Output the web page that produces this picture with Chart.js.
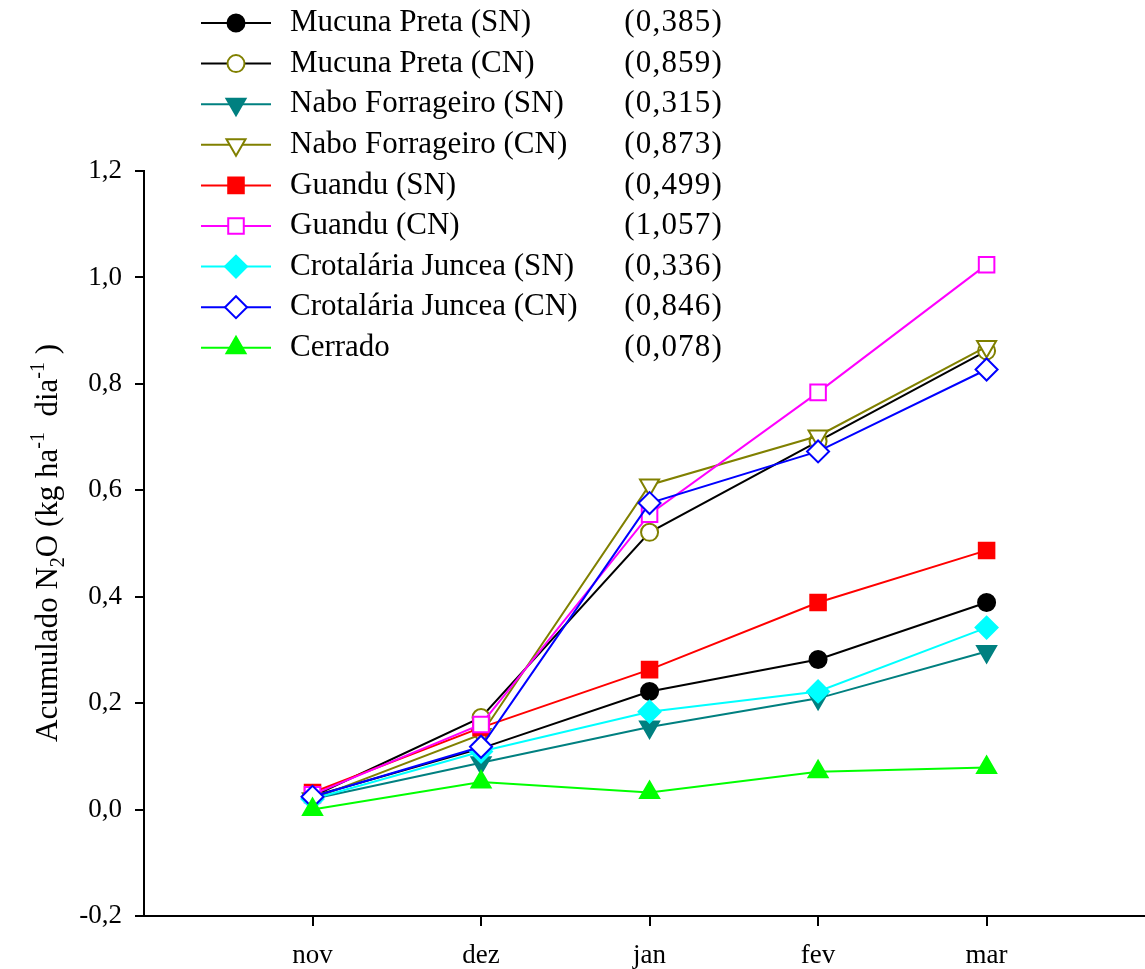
<!DOCTYPE html>
<html>
<head>
<meta charset="utf-8">
<script src="https://cdn.jsdelivr.net/npm/chart.js@4.4.1/dist/chart.umd.min.js"></script>
<style>
  body { margin: 0; background: #fff; }
  canvas { display: block; }
</style>
</head>
<body>
<canvas id="graph" width="1145" height="969"></canvas>
<script>
// data
var months = ['nov', 'dez', 'jan', 'fev', 'mar'];
var seriesNames = [
  'Mucuna Preta (SN)', 'Mucuna Preta (CN)', 'Nabo Forrageiro (SN)', 'Nabo Forrageiro (CN)',
  'Guandu (SN)', 'Guandu (CN)', 'Crotalária Juncea (SN)', 'Crotalária Juncea (CN)', 'Cerrado'
];
var totals = ['(0,385)', '(0,859)', '(0,315)', '(0,873)', '(0,499)', '(1,057)', '(0,336)', '(0,846)', '(0,078)'];

var mucunaSN = [0.025, 0.115, 0.222, 0.282, 0.389];
var mucunaCN = [0.025, 0.173, 0.521, 0.692, 0.862];
var naboSN = [0.020, 0.088, 0.155, 0.209, 0.297];
var naboCN = [0.020, 0.141, 0.610, 0.702, 0.870];
var guanduSN = [0.032, 0.154, 0.263, 0.389, 0.487];
var guanduCN = [0.028, 0.160, 0.555, 0.784, 1.024];
var crotSN = [0.020, 0.109, 0.184, 0.222, 0.342];
var crotCN = [0.024, 0.118, 0.576, 0.673, 0.827];
var cerrado = [0.000, 0.052, 0.032, 0.071, 0.079];

var FONT = '"Liberation Serif", "Times New Roman", serif';

// line colour, marker colour, marker fill, shape, rotation
var styles = [
  { line: '#000000', mark: '#000000', fill: '#000000', shape: 'circle', rot: 0, r: 8.5 },
  { line: '#000000', mark: '#808000', fill: '#ffffff', shape: 'circle', rot: 0, r: 8.5 },
  { line: '#008080', mark: '#008080', fill: '#008080', shape: 'triangle', rot: 180, r: 11 },
  { line: '#808000', mark: '#808000', fill: '#ffffff', shape: 'triangle', rot: 180, r: 11 },
  { line: '#ff0000', mark: '#ff0000', fill: '#ff0000', shape: 'rect', rot: 0, r: 11 },
  { line: '#ff00ff', mark: '#ff00ff', fill: '#ffffff', shape: 'rect', rot: 0, r: 11 },
  { line: '#00ffff', mark: '#00ffff', fill: '#00ffff', shape: 'rectRot', rot: 0, r: 11 },
  { line: '#0000ff', mark: '#0000ff', fill: '#ffffff', shape: 'rectRot', rot: 0, r: 11 },
  { line: '#00ff00', mark: '#00ff00', fill: '#00ff00', shape: 'triangle', rot: 0, r: 11 }
];

var allSeries = [mucunaSN, mucunaCN, naboSN, naboCN, guanduSN, guanduCN, crotSN, crotCN, cerrado];

var datasets = allSeries.map(function (vals, i) {
  var s = styles[i];
  return {
    label: seriesNames[i],
    data: vals.map(function (v, j) { return { x: j, y: v }; }),
    borderColor: s.line,
    borderWidth: 2,
    pointStyle: s.shape,
    rotation: s.rot,
    pointRadius: s.r,
    pointBorderWidth: 2,
    pointBorderColor: s.mark,
    pointBackgroundColor: s.fill,
    tension: 0,
    clip: false,
    order: allSeries.length - i
  };
});

function drawMarker(ctx, s, x, y) {
  var r = s.r;
  ctx.beginPath();
  if (s.shape === 'circle') {
    ctx.arc(x, y, r, 0, Math.PI * 2);
  } else if (s.shape === 'rect') {
    var h = r * Math.SQRT1_2;
    ctx.rect(x - h, y - h, 2 * h, 2 * h);
  } else if (s.shape === 'rectRot') {
    ctx.moveTo(x, y - r); ctx.lineTo(x + r, y); ctx.lineTo(x, y + r); ctx.lineTo(x - r, y);
    ctx.closePath();
  } else {
    var rad = s.rot * Math.PI / 180;
    for (var k = 0; k < 3; k++) {
      var px = x + Math.sin(rad) * r, py = y - Math.cos(rad) * r;
      if (k === 0) ctx.moveTo(px, py); else ctx.lineTo(px, py);
      rad += Math.PI * 2 / 3;
    }
    ctx.closePath();
  }
  ctx.fillStyle = s.fill;
  ctx.fill();
  ctx.lineWidth = 2;
  ctx.strokeStyle = s.mark;
  ctx.stroke();
}

var extras = {
  id: 'extras',
  afterDraw: function (chart) {
    var ctx = chart.ctx;
    ctx.save();
    // legend
    ctx.font = '31px ' + FONT;
    ctx.textBaseline = 'middle';
    for (var i = 0; i < seriesNames.length; i++) {
      var y = 23 + i * 40.6;
      var s = styles[i];
      ctx.beginPath();
      ctx.moveTo(201, y); ctx.lineTo(271, y);
      ctx.lineWidth = 2; ctx.strokeStyle = s.line; ctx.stroke();
      drawMarker(ctx, s, 236, y);
      ctx.fillStyle = '#000';
      ctx.textAlign = 'left';
      ctx.letterSpacing = '0px';
      ctx.fillText(seriesNames[i], 290, y);
      ctx.textAlign = 'right';
      ctx.letterSpacing = '1.2px';
      ctx.fillText(totals[i], 723, y);
    }
    ctx.letterSpacing = '0px';
    ctx.restore();

    // y axis title with sub/superscripts
    ctx.save();
    ctx.translate(57, 543);
    ctx.rotate(-Math.PI / 2);
    ctx.fillStyle = '#000';
    ctx.textBaseline = 'alphabetic';
    ctx.textAlign = 'left';
    var big = '31px ' + FONT, small = '20px ' + FONT;
    var parts = [
      ['Acumulado N', big, 0], ['2', small, 7], ['O (kg ha', big, 0], ['-1', small, -13],
      ['  dia', big, 0], ['-1', small, -13], [' )', big, 0]
    ];
    var total = 0;
    parts.forEach(function (p) { ctx.font = p[1]; total += ctx.measureText(p[0]).width; });
    var x = -total / 2;
    parts.forEach(function (p) {
      ctx.font = p[1];
      ctx.fillText(p[0], x, p[2]);
      x += ctx.measureText(p[0]).width;
    });
    ctx.restore();
  }
};

var graph = document.getElementById('graph').getContext('2d');

var myChart = new Chart(graph, {
  type: 'line',
  data: { datasets: datasets },
  options: {
    responsive: false,
    animation: false,
    layout: { autoPadding: false, padding: { top: 171, left: 0, right: 0, bottom: 0 } },
    scales: {
      x: {
        type: 'linear',
        min: -1,
        max: 4.94,
        afterBuildTicks: function (scale) {
          scale.ticks = months.map(function (m, i) { return { value: i }; });
        },
        afterFit: function (scale) { scale.height = 53; },
        ticks: {
          color: '#000',
          font: { family: FONT, size: 27 },
          padding: 14,
          maxRotation: 0,
          callback: function (v) { return months[v]; }
        },
        grid: { drawOnChartArea: false, drawTicks: true, tickLength: 10, color: '#000', lineWidth: 2 },
        border: { display: true, color: '#000', width: 2 }
      },
      y: {
        min: -0.2,
        max: 1.2,
        afterFit: function (scale) { scale.width = 144; },
        ticks: {
          stepSize: 0.2,
          color: '#000',
          font: { family: FONT, size: 27 },
          padding: 13,
          callback: function (v) {
            if (Math.abs(v) < 1e-9) v = 0;
            return v.toFixed(1).replace('.', ',');
          }
        },
        grid: { drawOnChartArea: false, drawTicks: true, tickLength: 9, color: '#000', lineWidth: 2 },
        border: { display: true, color: '#000', width: 2 }
      }
    },
    plugins: {
      legend: { display: false },
      tooltip: { enabled: false }
    }
  },
  plugins: [extras]
});
</script>
</body>
</html>
